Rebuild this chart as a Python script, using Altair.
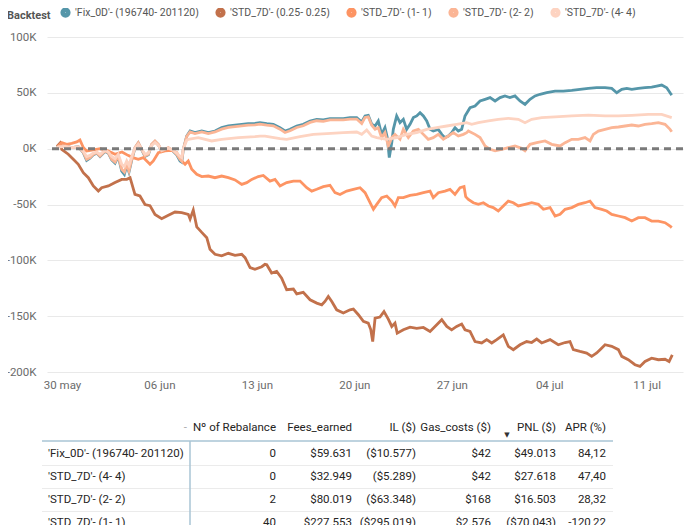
import altair as alt
import pandas as pd

# ---------------- data ----------------
START = pd.Timestamp("2022-05-30")  # day 0 of the backtest axis

series_names = [
    "'Fix_0D'- (196740- 201120)",
    "'STD_7D'- (0.25- 0.25)",
    "'STD_7D'- (1- 1)",
    "'STD_7D'- (2- 2)",
    "'STD_7D'- (4- 4)",
]
series_colors = ["#5596A9", "#C2714B", "#FD9463", "#FBB595", "#FDD3C1"]

# days since 30 May, PNL in thousands of $
fix_days = [-0.36, -0.27, 0.22, 0.70, 1.17, 1.53, 1.77, 2.01, 2.25, 2.49, 2.73, 3.09, 3.33, 3.57, 3.81, 4.04,
            4.29, 4.48, 4.65, 4.81, 5.01, 5.24, 5.48, 5.73, 5.96, 6.20, 6.44, 6.68, 6.92, 7.16, 7.40, 7.64,
            8.00, 8.24, 8.48, 8.60, 8.71, 8.96, 9.20, 9.55, 10.04, 10.51, 10.99, 11.47, 11.95, 12.43, 12.91,
            13.38, 13.86, 14.22, 14.71, 15.18, 15.66, 16.02, 16.38, 16.86, 17.33, 17.82, 18.30, 18.77, 19.25,
            19.73, 20.21, 20.69, 21.17, 21.53, 21.77, 22.00, 22.25, 22.49, 22.72, 22.96, 23.20, 23.37, 23.51,
            23.69, 23.80, 24.04, 24.28, 24.52, 24.76, 25.00, 25.24, 25.48, 25.72, 25.96, 26.20, 26.44, 26.67,
            27.03, 27.28, 27.51, 27.75, 27.99, 28.23, 28.47, 28.71, 28.95, 29.31, 29.67, 30.03, 30.39, 30.75,
            31.11, 31.47, 31.82, 32.18, 32.54, 32.90, 33.26, 33.62, 33.98, 34.34, 34.82, 35.42, 36.01, 36.62,
            37.21, 37.81, 38.41, 39.01, 39.49, 39.85, 40.21, 40.57, 40.93, 41.40, 41.88, 42.36, 42.72, 43.08,
            43.44, 43.68, 43.80]
fix_pnl = [0, 1.8, 2.4, 1.0, 1.8, -3.6, -10.5, -8.5, -5.5, -4, -7, -2.5, -4, -10, -13, -7,
           -20, -23, -15, -21, -10, 0.5, 5, -1, -7, -5.5, 3.5, 6.5, 3.5, -2.5, -1, 0.5,
           -2.5, -5.5, -11, -12, -1, 11.3, 15.8, 14.3, 15.8, 14.3, 15.8, 18.8, 20.3, 21, 21.8,
           22.4, 22.7, 23.3, 22.4, 21.8, 18.8, 15.8, 17.3, 20.3, 21.8, 24.8, 26.3, 25.7, 26.9,
           26.9, 26.9, 27.8, 27.8, 23.9, 29.3, 29.9, 21.8, 20.3, 24.8, 12.8, 18.8, 9.9, -8,
           5.4, 17.3, 29.3, 23.3, 26.3, 17.3, 21.8, 27.8, 29.3, 32.2, 29.3, 24.8, 17.3, 15.8,
           17.3, 12.8, 9.9, 11.3, 14.3, 18.8, 15.8, 17.3, 29.3, 36.7, 38.2, 42.7, 44.2, 45.7,
           42.7, 45.7, 47.2, 45.7, 47.2, 42.7, 39.7, 44.2, 47.2, 48.7, 50.1, 51.6, 51.6, 52.2,
           53.1, 54, 54.6, 54.6, 54, 50.1, 53.1, 54, 53.1, 54, 54.6, 55.2, 56.1, 57,
           54.6, 50.1, 48]

std025_days = [-0.36, -0.14, -0.02, 0.45, 0.81, 1.17, 1.53, 1.89, 2.25, 2.61, 2.85, 3.33, 3.81, 4.29, 4.65,
               4.89, 5.24, 5.60, 5.96, 6.32, 6.68, 7.16, 7.64, 8.12, 8.60, 9.07, 9.20, 9.43, 9.68, 10.04,
               10.40, 10.63, 10.99, 11.47, 11.95, 12.43, 12.91, 13.15, 13.51, 13.86, 14.35, 14.58, 14.71,
               15.06, 15.42, 15.78, 16.14, 16.62, 16.86, 17.33, 17.82, 18.30, 18.66, 18.89, 19.13, 19.38,
               19.73, 20.21, 20.69, 20.93, 21.29, 21.65, 22.00, 22.18, 22.32, 22.49, 22.84, 23.13, 23.44,
               23.69, 23.92, 24.08, 24.52, 25.00, 25.48, 25.96, 26.44, 26.92, 27.28, 27.64, 27.99, 28.35,
               28.71, 28.95, 29.31, 29.67, 30.15, 30.51, 30.87, 31.23, 31.70, 32.06, 32.42, 32.90, 33.38,
               33.74, 34.10, 34.46, 35.06, 35.65, 36.14, 36.49, 36.73, 37.21, 37.69, 38.05, 38.41, 38.65,
               39.01, 39.49, 39.97, 40.21, 40.68, 41.16, 41.52, 41.88, 42.36, 42.84, 43.32, 43.61, 43.84]
std025_pnl = [2, 5, -0.6, -5, -9.5, -14, -21.5, -26, -33.4, -38, -35, -33.4, -30.4, -27.5, -27.5,
              -26, -41, -42.4, -50, -51, -59, -62.7, -59.7, -56.7, -57.3, -58.8, -63, -55, -70, -75,
              -79.7, -90, -94.6, -96, -93.7, -95.5, -94.6, -97.6, -106.6, -108, -105.7, -103.6, -104,
              -111.4, -110, -115.9, -126.3, -125.7, -130, -128.7, -135.3, -138.3, -139.8, -136.8, -132.3, -136.8,
              -144.3, -147.2, -144.3, -143.7, -148.7, -154.7, -156.2, -162, -172.7, -151.7, -150.8, -145.8, -152.6,
              -159.2, -156.2, -165.2, -162.2, -159.8, -161, -160.1, -163.7, -157.7, -153.2, -159.2, -162.2, -159.2,
              -157, -162.2, -163.7, -172.7, -174, -171, -174, -171, -166.7, -177, -180, -175.6, -172.7,
              -173.6, -170.5, -174, -171, -175.6, -173.6, -172.7, -180, -181.6, -183, -186, -183, -180,
              -175.6, -177, -180, -186, -189, -193.5, -195, -190.6, -187.6, -189, -188.6, -190.6, -184.6]

std1_days = [-0.27, -0.02, 0.34, 0.70, 1.06, 1.29, 1.53, 1.77, 2.25, 2.73, 3.30, 3.81, 4.31, 4.74, 5.10,
             5.48, 5.84, 6.32, 6.56, 6.92, 7.40, 7.88, 8.24, 8.60, 8.84, 9.07, 9.32, 9.68, 10.04, 10.51,
             10.99, 11.47, 11.95, 12.43, 12.91, 13.27, 13.63, 14.10, 14.46, 14.94, 15.30, 15.66, 16.14,
             16.62, 17.10, 17.58, 17.94, 18.30, 18.77, 19.25, 19.61, 19.97, 20.45, 20.93, 21.41, 21.77,
             22.13, 22.37, 22.61, 22.96, 23.33, 23.69, 23.92, 24.16, 24.52, 25.00, 25.48, 25.96, 26.44,
             26.67, 27.03, 27.51, 27.87, 28.23, 28.59, 28.88, 29.00, 29.19, 29.55, 29.91, 30.27, 30.63,
             30.98, 31.34, 31.70, 32.06, 32.42, 32.78, 33.26, 33.74, 34.22, 34.58, 35.06, 35.42, 35.78,
             36.14, 36.62, 37.09, 37.57, 37.93, 38.29, 38.77, 39.13, 39.49, 39.97, 40.45, 40.93, 41.40,
             41.88, 42.36, 42.84, 43.32, 43.68, 43.80]
std1_pnl = [2.4, 5.4, 3.9, 4.8, 6, 7.8, 1, -2, -1, 0, -2, -5, -3, -6, -8,
            -9.5, -8, -14, -11, -3.6, -2, -1.5, -3.6, -11, -14, -11, -18.5, -23, -25, -24.5,
            -26, -24.5, -26, -28, -32, -30.4, -27.5, -25, -24, -29, -27.5, -33.4, -30.4,
            -29, -29, -35, -38, -36.4, -34, -32.8, -39.4, -41, -38, -36.4, -35, -39.4,
            -48.4, -54.3, -49.9, -43.9, -42.4, -46.9, -51.3, -43.9, -43.9, -41.8, -40.9, -39.4, -38,
            -43.9, -39.4, -38, -36.4, -41, -35, -34, -43, -45.4, -48.4, -49.9, -48.4, -51.3,
            -52.8, -55.8, -51.3, -46.9, -48.4, -51.3, -49.9, -48.4, -49.9, -54.3, -52.8, -60.3, -58.8,
            -54.3, -52.8, -49.9, -48.4, -46.9, -52.8, -54.3, -55.8, -58.8, -60.3, -61.8, -64.8, -61.8,
            -61.8, -64.8, -64.8, -66.3, -69.3, -70.7]

std2_days = [-0.36, -0.27, 0.22, 0.70, 1.17, 1.53, 1.77, 2.01, 2.25, 2.49, 2.73, 3.09, 3.33, 3.57, 3.81, 4.04,
             4.29, 4.48, 4.65, 4.81, 5.01, 5.24, 5.48, 5.73, 5.96, 6.20, 6.44, 6.68, 6.92, 7.16, 7.40, 7.64,
             8.00, 8.24, 8.48, 8.60, 8.71, 8.96, 9.20, 9.55, 10.04, 10.51, 10.99, 11.47, 11.95, 12.43, 12.91,
             13.38, 13.86, 14.22, 14.71, 15.18, 15.66, 16.02, 16.38, 16.86, 17.33, 17.82, 18.30, 18.77, 19.25,
             19.73, 20.21, 20.69, 21.17, 21.53, 21.77, 22.00, 22.25, 22.49, 22.72, 22.96, 23.20, 23.44, 23.69,
             23.92, 24.28, 24.52, 24.88, 25.24, 25.60, 25.96, 26.31, 26.67, 27.03, 27.39, 27.75, 28.11, 28.47,
             28.83, 29.07, 29.19, 29.67, 30.03, 30.39, 30.75, 31.11, 31.59, 32.06, 32.54, 33.02, 33.26, 33.62,
             34.10, 34.70, 35.18, 35.78, 36.14, 36.62, 37.09, 37.57, 37.93, 38.17, 38.53, 39.01, 39.49, 39.97,
             40.45, 40.93, 41.40, 41.88, 42.36, 42.84, 43.32, 43.68, 43.80]
std2_pnl = [0, 1.8, 2.4, 1.0, 1.8, -3.2, -9.5, -8, -5, -3.6, -6.5, -2, -3.6, -9.5, -12, -6.5,
            -18.5, -21, -14, -20, -9.5, 1, 5.4, -0.6, -6.5, -5, 3.9, 6.9, 3.9, -2, -0.6, 1,
            -2, -5, -9.5, -11, -0.6, 11, 15, 13.5, 15, 13.5, 15, 17.5, 19, 19.8, 20.5,
            21, 21.3, 22, 21, 20.5, 17.5, 14.5, 16, 19, 20.5, 23.5, 25, 24.5, 25.7,
            25.7, 25.7, 26.5, 26.5, 22.5, 28, 28.5, 21, 17.3, 18.8, 9.9, 14.3, 2.4, 9.9,
            12.8, 8.4, 17.3, 9.9, 15.8, 17.3, 12.8, 8.4, 9.9, 12.8, 8.4, 11.3, 14.3, 11.3,
            12.8, 14.3, 15.8, 12.8, 9.9, 2.4, -0.6, -2, -0.6, 0.9, 2.4, 0.3, -2, 3.9,
            5.4, 6.9, 3.9, 2.4, 5.4, 8.4, 8.4, 9.9, 6.9, 12.8, 15.8, 17.3, 18.8, 19.4,
            20.3, 21.2, 20.3, 21.8, 22.4, 23.3, 21.8, 17.3, 15.2]

std4_days = [-0.36, -0.27, 0.22, 0.70, 1.17, 1.53, 1.77, 2.01, 2.25, 2.49, 2.73, 3.09, 3.33, 3.57, 3.81, 4.04,
             4.29, 4.48, 4.65, 4.81, 5.01, 5.24, 5.48, 5.73, 5.96, 6.20, 6.44, 6.68, 6.92, 7.16, 7.40, 7.64,
             8.00, 8.24, 8.48, 8.60, 8.71, 8.96, 9.07, 9.79, 10.75, 11.47, 12.67, 13.86, 14.22, 14.58, 15.66,
             16.14, 17.10, 18.05, 19.02, 20.21, 21.17, 21.53, 21.89, 22.25, 22.61, 23.33, 24.04, 24.76, 25.48,
             26.20, 26.92, 27.64, 28.35, 29.07, 29.43, 29.91, 30.63, 31.34, 32.06, 32.78, 33.26, 33.74, 34.46,
             35.42, 36.62, 37.81, 39.01, 39.97, 40.93, 42.12, 43.08, 43.80]
std4_pnl = [0, 1.5, 2, 1, 1.5, -2.5, -7, -6, -4, -3, -5, -1.5, -3, -7, -9, -5,
            -14, -16, -11, -15, -7, 0.5, 4, -0.5, -5, -4, 3, 5.5, 3, -1.5, -0.5, 0.5,
            -1.5, -4, -7, -8, -0.5, 7.5, 8.4, 9.9, 6.9, 8.4, 9.9, 10.7, 11.3, 11.3, 9,
            8.4, 10.7, 12.8, 13.4, 14.3, 14.9, 12.8, 16.7, 11.3, 9.9, 8.4, 9.9, 12.8, 14.3,
            17.3, 18.8, 20.3, 21.8, 23.3, 21.8, 23.3, 24.8, 26.3, 27.2, 26.3, 23.3, 26.3, 27.8,
            28.4, 29.3, 30.1, 29.3, 29.3, 29.9, 30.7, 30.7, 27.8]

axis_dates = ["2022-05-30", "2022-06-06", "2022-06-13", "2022-06-20", "2022-06-27", "2022-07-04", "2022-07-11"]
y_ticks = [-200000, -150000, -100000, -50000, 0, 50000, 100000]

# table below the chart
table_labels = ["'Fix_0D'- (196740- 201120)", "'STD_7D'- (4- 4)", "'STD_7D'- (2- 2)", "'STD_7D'- (1- 1)"]
table_rebalances = ["0", "0", "2", "40"]
table_fees = ["$59.631", "$32.949", "$80.019", "$227.553"]
table_il = ["($10.577)", "($5.289)", "($63.348)", "($295.019)"]
table_gas = ["$42", "$42", "$168", "$2.576"]
table_pnl = ["$49.013", "$27.618", "$16.503", "($70.043)"]
table_apr = ["84,12", "47,40", "28,32", "-120,22"]
table_headers = ["-", "Nº of Rebalance", "Fees_earned", "IL ($)", "Gas_costs ($)", "PNL ($)", "APR (%)"]

# ---------------- build frames ----------------
all_days = [fix_days, std025_days, std1_days, std2_days, std4_days]
all_pnl = [fix_pnl, std025_pnl, std1_pnl, std2_pnl, std4_pnl]
frames = []
for name, ds, vs in zip(series_names, all_days, all_pnl):
    frames.append(pd.DataFrame({
        "Backtest": name,
        "time": START + pd.to_timedelta(ds, unit="D"),
        "pnl": [v * 1000 for v in vs],
    }))
df = pd.concat(frames, ignore_index=True)

table_df = pd.DataFrame({
    "row": [1, 2, 3, 4],
    "label": table_labels,
    "reb": table_rebalances,
    "fees": table_fees,
    "il": table_il,
    "gas": table_gas,
    "pnl": table_pnl,
    "apr": table_apr,
})

FONT = "Roboto"
W, H = 636, 335

x_domain = [alt.DateTime(year=2022, month=5, date=28, hours=22, minutes=8),
            alt.DateTime(year=2022, month=7, date=13, hours=14, minutes=38)]
x_vals = [alt.DateTime(year=int(d[:4]), month=int(d[5:7]), date=int(d[8:])) for d in axis_dates]

yscale = alt.Scale(domain=[-200000, 100000], nice=False)

lines = alt.Chart(df).mark_line(strokeWidth=2.8, interpolate="linear", strokeJoin="miter").encode(
    x=alt.X("time:T", scale=alt.Scale(domain=x_domain),
            axis=alt.Axis(values=x_vals, title=None, grid=False, domain=False, ticks=False,
                          labelExpr="lower(timeFormat(datum.value, '%d %b'))",
                          labelPadding=7, labelFontSize=11.5, labelColor="#6b6b6b", labelFont=FONT,
                          labelOverlap=False)),
    y=alt.Y("pnl:Q", scale=yscale,
            axis=alt.Axis(values=y_ticks, title=None, domain=False, ticks=False, tickSize=0,
                          labelExpr="(datum.value/1000) + 'K'", labelPadding=11,
                          labelFontSize=11.5, labelColor="#6b6b6b", labelFont=FONT,
                          gridColor="#E9E9E9", gridWidth=1)),
    color=alt.Color("Backtest:N", sort=series_names,
                    scale=alt.Scale(domain=series_names, range=series_colors),
                    legend=alt.Legend(orient="none", legendX=-40, legendY=-30, direction="horizontal",
                                      columns=5, title="Backtest", titleOrient="left",
                                      titleFont=FONT, titleFontSize=11, titleFontWeight="bold",
                                      titleColor="#555555", titlePadding=9,
                                      labelFont=FONT, labelFontSize=10.5, labelColor="#555555",
                                      labelLimit=400, labelOffset=4, columnPadding=8,
                                      symbolType="circle", symbolSize=22, symbolStrokeWidth=5.5,
                                      symbolOpacity=1)),
    detail="Backtest:N",
)

zero = alt.Chart(pd.DataFrame({"z": [0]})).mark_rule(
    color="#7a7a7a", strokeWidth=3, strokeDash=[7, 5]
).encode(y=alt.Y("z:Q", scale=yscale))

plot = alt.layer(lines, zero)

# ---------------- table ----------------
row_scale = alt.Scale(domain=[1, 4], range=[417, 486])
TXT = "#252423"
HDR_Y = 391

col_right = {"reb": 229, "fees": 305, "il": 369, "gas": 444, "pnl": 509, "apr": 559}
col_header = {"reb": "Nº of Rebalance", "fees": "Fees_earned", "il": "IL ($)",
              "gas": "Gas_costs ($)", "pnl": "PNL ($)", "apr": "APR (%)"}

tbase = alt.Chart(table_df)
tlayers = []
tlayers.append(tbase.mark_text(align="left", baseline="middle", font=FONT, fontSize=11.5, color=TXT).encode(
    x=alt.value(1), y=alt.Y("row:Q", scale=row_scale, axis=None), text="label:N"))
for key, xr in col_right.items():
    tlayers.append(tbase.mark_text(align="right", baseline="middle", font=FONT, fontSize=11.5, color=TXT).encode(
        x=alt.value(xr), y=alt.Y("row:Q", scale=row_scale, axis=None), text=f"{key}:N"))
    tlayers.append(alt.Chart(pd.DataFrame({"h": [col_header[key]]})).mark_text(
        align="right", baseline="middle", font=FONT, fontSize=11.5, color=TXT).encode(
        x=alt.value(xr), y=alt.value(HDR_Y), text="h:N"))
tlayers.append(alt.Chart(pd.DataFrame({"h": [table_headers[0]]})).mark_text(
    align="right", baseline="middle", font=FONT, fontSize=11.5, color="#aaaaaa").encode(
    x=alt.value(140), y=alt.value(HDR_Y), text="h:N"))
tlayers.append(alt.Chart(pd.DataFrame({"h": ["▼"]})).mark_text(
    align="center", baseline="middle", font="DejaVu Sans", fontSize=7, color="#333333").encode(
    x=alt.value(460), y=alt.value(HDR_Y + 7), text="h:N"))

seps = tbase.transform_filter("datum.row < 4").transform_calculate(sep="datum.row + 0.5").mark_rule(
    color="#EBEBEB", strokeWidth=1).encode(
    x=alt.value(-5), x2=alt.value(566), y=alt.Y("sep:Q", scale=row_scale, axis=None))
hline = alt.Chart(pd.DataFrame({"a": [0]})).mark_rule(color="#A9C4D4", strokeWidth=1.5).encode(
    x=alt.value(-5), x2=alt.value(566), y=alt.value(404))
vline = alt.Chart(pd.DataFrame({"a": [0]})).mark_rule(color="#A9C4D4", strokeWidth=1.5).encode(
    x=alt.value(143), y=alt.value(404), y2=alt.value(520))

table = alt.layer(seps, hline, vline, *tlayers)

chart = alt.layer(plot, table).resolve_scale(y="independent", x="independent").properties(
    width=W, height=H,
    autosize=alt.AutoSizeParams(type="none"),
    padding={"left": 39, "top": 29, "right": 9, "bottom": 153},
).configure(font=FONT).configure_legend(labelFont=FONT, titleFont=FONT).configure_view(stroke=None)

chart.save("out.html", embed_options={"renderer": "svg", "actions": False})
